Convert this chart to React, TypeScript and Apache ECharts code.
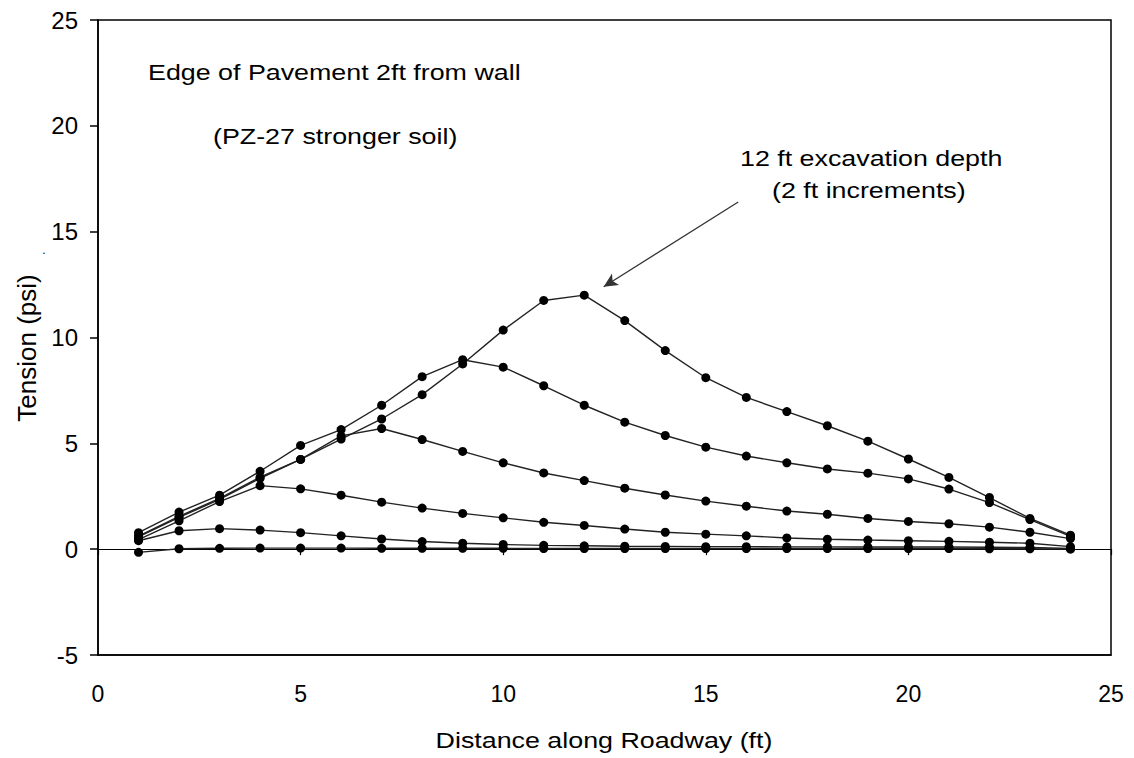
import React, { useEffect, useRef } from "react";
import * as echarts from "echarts";

const distance = [1, 2, 3, 4, 5, 6, 7, 8, 9, 10, 11, 12, 13, 14, 15, 16, 17, 18, 19, 20, 21, 22, 23, 24];

const depth12 = [0.62, 1.55, 2.4, 3.4, 4.24, 5.2, 6.15, 7.3, 8.75, 10.35, 11.75, 12.0, 10.8, 9.38, 8.1, 7.17, 6.5, 5.83, 5.1, 4.26, 3.39, 2.44, 1.45, 0.66];
const depth10 = [0.78, 1.75, 2.55, 3.68, 4.9, 5.65, 6.8, 8.15, 8.95, 8.6, 7.72, 6.8, 6.0, 5.37, 4.82, 4.4, 4.08, 3.79, 3.59, 3.32, 2.84, 2.2, 1.4, 0.6];
const depth8 = [0.58, 1.5, 2.35, 3.35, 4.24, 5.35, 5.7, 5.18, 4.62, 4.08, 3.6, 3.24, 2.88, 2.56, 2.27, 2.03, 1.8, 1.65, 1.45, 1.31, 1.2, 1.04, 0.8, 0.5];
const depth6 = [0.45, 1.34, 2.25, 3.0, 2.85, 2.55, 2.22, 1.94, 1.69, 1.48, 1.27, 1.12, 0.95, 0.8, 0.71, 0.63, 0.53, 0.47, 0.43, 0.4, 0.37, 0.33, 0.28, 0.12];
const depth4 = [0.4, 0.87, 0.97, 0.9, 0.78, 0.63, 0.48, 0.36, 0.28, 0.22, 0.18, 0.16, 0.14, 0.13, 0.12, 0.12, 0.11, 0.11, 0.1, 0.1, 0.1, 0.09, 0.08, 0.03];
const depth2 = [-0.15, 0.02, 0.04, 0.05, 0.05, 0.05, 0.04, 0.04, 0.04, 0.04, 0.03, 0.03, 0.03, 0.03, 0.03, 0.03, 0.03, 0.03, 0.03, 0.03, 0.03, 0.02, 0.02, 0.0];

const seriesList = [
  { name: "12 ft", values: depth12 },
  { name: "10 ft", values: depth10 },
  { name: "8 ft", values: depth8 },
  { name: "6 ft", values: depth6 },
  { name: "4 ft", values: depth4 },
  { name: "2 ft", values: depth2 },
];

const xTicks = [0, 25, 5];
const yTicks = [-5, 25, 5];

const FONT = "Liberation Sans, Arial, sans-serif";
const STRETCH = 1.22;

export default function App() {
  const ref = useRef<HTMLDivElement>(null);

  useEffect(() => {
    document.body.style.margin = "0";
    if (!ref.current) return;
    const chart = echarts.init(ref.current, null, { renderer: "svg" });

    const series: any[] = seriesList.map((s, idx) => ({
      name: s.name,
      type: "line",
      xAxisIndex: 0,
      yAxisIndex: 0,
      data: distance.map((x, i) => [x, s.values[i]]),
      symbol: "circle",
      symbolSize: 9,
      itemStyle: { color: "#000" },
      lineStyle: { color: "#222", width: 1.4 },
      z: 3,
      markLine:
        idx === 0
          ? {
              silent: true,
              animation: false,
              label: { show: false },
              lineStyle: { color: "#333", width: 1.3, type: "solid" },
              symbolSize: [10, 14],
              data: [
                [
                  { coord: [15.8, 16.4], symbol: "none" },
                  { coord: [12.48, 12.4], symbol: "arrow" },
                ],
              ],
            }
          : undefined,
    }));

    const label = (text: string, x: number, y: number, align: string) => ({
      type: "text",
      x,
      y,
      scaleX: STRETCH,
      style: { text, fontSize: 22, fontFamily: FONT, fill: "#000", align, verticalAlign: "middle" },
    });

    chart.setOption({
      animation: false,
      backgroundColor: "#fff",
      grid: {
        left: 98,
        right: 23,
        top: 20,
        bottom: 103,
        show: true,
        borderColor: "#000",
        borderWidth: 1.5,
        backgroundColor: "transparent",
      },
      xAxis: [
        {
          type: "value",
          min: xTicks[0],
          max: xTicks[1],
          interval: xTicks[2],
          position: "bottom",
          axisLine: { show: true, onZero: false, lineStyle: { color: "#000", width: 1.5 } },
          axisTick: { show: false },
          axisLabel: { color: "#000", fontSize: 23, fontFamily: FONT, margin: 27 },
          splitLine: { show: false },
        },
        {
          type: "value",
          min: xTicks[0],
          max: xTicks[1],
          interval: xTicks[2],
          position: "bottom",
          axisLine: { show: true, onZero: true, lineStyle: { color: "#000", width: 1.2 } },
          axisTick: { show: true, length: 6, lineStyle: { color: "#000", width: 1.2 } },
          axisLabel: { show: false },
          splitLine: { show: false },
        },
      ],
      yAxis: {
        type: "value",
        min: yTicks[0],
        max: yTicks[1],
        interval: yTicks[2],
        axisLine: { show: true, lineStyle: { color: "#000", width: 1.5 } },
        axisTick: { show: true, length: 8, lineStyle: { color: "#000", width: 1.5 } },
        axisLabel: { color: "#000", fontSize: 24, fontFamily: FONT, margin: 20 },
        splitLine: { show: false },
      },
      graphic: [
        label("Edge of Pavement 2ft from wall", 148, 72, "left"),
        label("(PZ-27 stronger soil)", 213, 136, "left"),
        label("12 ft excavation depth", 740, 158, "left"),
        label("(2 ft increments)", 772, 190, "left"),
        label("Distance along Roadway (ft)", 604, 740, "center"),
        {
          type: "text",
          x: 27,
          y: 348,
          rotation: Math.PI / 2,
          style: {
            text: "Tension (psi)",
            fontSize: 26,
            fontFamily: FONT,
            fill: "#000",
            align: "center",
            verticalAlign: "middle",
          },
        },
        {
          type: "text",
          x: 44,
          y: 250,
          style: { text: ".", fontSize: 12, fontFamily: FONT, fill: "#000", align: "center", verticalAlign: "middle" },
        },
      ],
      series,
    });

    return () => chart.dispose();
  }, []);

  return <div ref={ref} style={{ width: 1134, height: 758 }} />;
}
